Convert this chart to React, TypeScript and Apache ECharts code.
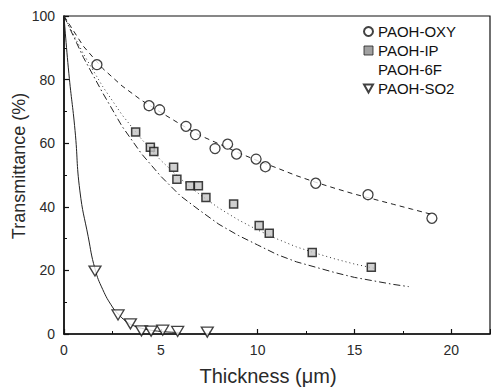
import React, { useEffect, useRef } from "react";
import * as echarts from "echarts";

// ---- data ----
const oxyPoints: [number, number][] = [
  [1.7, 84.7], [4.39, 71.8], [4.94, 70.5], [6.3, 65.3], [6.79, 62.7], [7.8, 58.3],
  [8.45, 59.7], [8.91, 56.6], [9.92, 55.0], [10.4, 52.6], [13.0, 47.4], [15.7, 43.8], [19.0, 36.4],
];
const ipPoints: [number, number][] = [
  [3.7, 63.5], [4.46, 58.7], [4.64, 57.4], [5.66, 52.4], [5.83, 48.7], [6.51, 46.6],
  [6.94, 46.6], [7.33, 42.9], [8.76, 40.9], [10.08, 34.1], [10.6, 31.7], [12.82, 25.6], [15.87, 21.0],
];
const so2Points: [number, number][] = [
  [1.6, 19.8], [2.79, 6.0], [3.43, 3.2], [4.0, 1.0], [4.5, 0.9], [5.1, 1.2], [5.87, 0.8], [7.4, 0.6],
];

const oxyCurve: [number, number][] = [
  [0, 100], [1, 90.5], [2, 83.5], [3, 78], [4, 73.5], [5, 69.7], [6, 66], [7, 62.5], [8, 59.8],
  [9, 57], [10, 54.5], [11, 52.2], [12, 49.8], [13, 47.7], [14, 45.8], [15, 44], [16, 42.4],
  [17, 40.8], [18, 39.2], [19, 37.6],
];
const ipCurve: [number, number][] = [
  [0, 100], [1, 88.1], [2, 77.8], [3, 68.9], [4, 61.3], [5, 54.6], [6, 48.9], [7, 43.9], [8, 39.6],
  [9, 35.9], [10, 32.7], [11, 29.9], [12, 27.4], [13, 25.4], [14, 23.6], [15, 22], [16, 20.7],
];
const f6Curve: [number, number][] = [
  [0, 100], [1, 87], [2, 75.8], [3, 65.3], [4, 56.7], [5, 49.6], [6, 43.5], [7, 38.9], [8, 34.5],
  [9, 31], [10, 28], [11, 25.0], [12, 22.7], [13, 21], [14, 19.3], [15, 17.8], [16, 16.7],
  [17, 15.6], [17.8, 14.9],
];
const so2Curve: [number, number][] = [
  [0, 100], [0.25, 82], [0.57, 64], [0.82, 45], [1.25, 30.6], [1.6, 20.5], [2.0, 14], [2.5, 8.5],
  [2.8, 6.3], [3.2, 4], [3.6, 2.6], [4, 1.8], [5, 0.8], [6, 0.5],
];

const seriesNames = ["PAOH-OXY", "PAOH-IP", "PAOH-6F", "PAOH-SO2"];
const xTicks = [0, 5, 10, 15, 20];
const yTicks = [0, 20, 40, 60, 80, 100];

const FONT = "'Liberation Sans', Arial, sans-serif";
const TEXT = "#2a2a2a";
const triPath = "path://M0,0L10,0L5,9Z";

export default function App() {
  const ref = useRef<HTMLDivElement>(null);
  useEffect(() => {
    if (!ref.current) return;
    const chart = echarts.init(ref.current, undefined, { renderer: "svg" });
    const lineBase = { type: "line", showSymbol: false, symbol: "none", silent: true, z: 2 };
    chart.setOption({
      animation: false,
      backgroundColor: "#fff",
      grid: { left: 64, right: 1, top: 16, bottom: 56, show: true, borderColor: "#111", borderWidth: 1.2 },
      xAxis: {
        type: "value", min: 0, max: 22, interval: 5,
        axisLine: { lineStyle: { color: "#111", width: 1.6 } },
        axisTick: { inside: true, length: 5, lineStyle: { color: "#111", width: 1.2 } },
        minorTick: { show: true, splitNumber: 2, length: 3, lineStyle: { color: "#111" } },
        splitLine: { show: false },
        axisLabel: {
          margin: 9, color: TEXT, fontFamily: FONT, fontSize: 14, showMaxLabel: false,
          formatter: (v: number) => (xTicks.includes(v) ? String(v) : ""),
        },
      },
      yAxis: {
        type: "value", min: 0, max: 100, interval: 20,
        axisLine: { show: true, lineStyle: { color: "#111", width: 1.6 } },
        axisTick: { show: true, inside: true, length: 5, lineStyle: { color: "#111", width: 1.2 } },
        minorTick: { show: true, splitNumber: 2, length: 3, lineStyle: { color: "#111" } },
        splitLine: { show: false },
        axisLabel: {
          margin: 9, color: TEXT, fontFamily: FONT, fontSize: 14,
          formatter: (v: number) => (yTicks.includes(v) ? String(v) : ""),
        },
      },
      legend: {
        orient: "vertical", left: 363, top: 22, padding: 0, itemGap: 0,
        itemWidth: 9, itemHeight: 9, itemTextGap: 20,
        textStyle: { color: "#111", fontFamily: FONT, fontSize: 15, lineHeight: 19 },
        data: [
          { name: seriesNames[0], icon: "circle" },
          { name: seriesNames[1], icon: "rect", itemStyle: { color: "#8a8a8a", borderColor: "#222", borderWidth: 1 } },
          { name: seriesNames[2], icon: "none" },
          { name: seriesNames[3], icon: triPath },
        ],
        selectedMode: false,
      },
      graphic: [
        {
          type: "text", x: 268, y: 376,
          style: { text: "Thickness (μm)", fill: TEXT, font: `20px ${FONT}`, align: "center", verticalAlign: "middle" },
        },
        {
          type: "text", x: 19, y: 166, rotation: Math.PI / 2,
          style: { text: "Transmittance (%)", fill: TEXT, font: `18px ${FONT}`, align: "center", verticalAlign: "middle" },
        },
      ],
      series: [
        { ...lineBase, name: "oxy-fit", data: oxyCurve, lineStyle: { color: "#222", width: 1, type: [5, 4] } },
        { ...lineBase, name: "ip-fit", data: ipCurve, lineStyle: { color: "#333", width: 1, type: [1, 3] } },
        { ...lineBase, name: seriesNames[2], data: f6Curve, lineStyle: { color: "#222", width: 1, type: [7, 3, 1.5, 3] } },
        { ...lineBase, name: "so2-fit", data: so2Curve, smooth: true, lineStyle: { color: "#222", width: 1, type: "solid" } },
        {
          type: "scatter", name: seriesNames[0], data: oxyPoints, symbol: "circle", symbolSize: 10, z: 3,
          itemStyle: { color: "#fff", borderColor: "#111", borderWidth: 1.3 },
        },
        {
          type: "scatter", name: seriesNames[1], data: ipPoints, symbol: "rect", symbolSize: 8, z: 3,
          itemStyle: { color: "#c4c4c4", borderColor: "#111", borderWidth: 1.5 },
        },
        {
          type: "scatter", name: seriesNames[3], data: so2Points, symbol: triPath, symbolSize: [12, 10], z: 3,
          itemStyle: { color: "#fff", borderColor: "#111", borderWidth: 1.3 },
        },
      ],
    });
    return () => chart.dispose();
  }, []);
  return <div ref={ref} style={{ position: "fixed", left: 0, top: 0, width: 491, height: 390 }} />;
}
